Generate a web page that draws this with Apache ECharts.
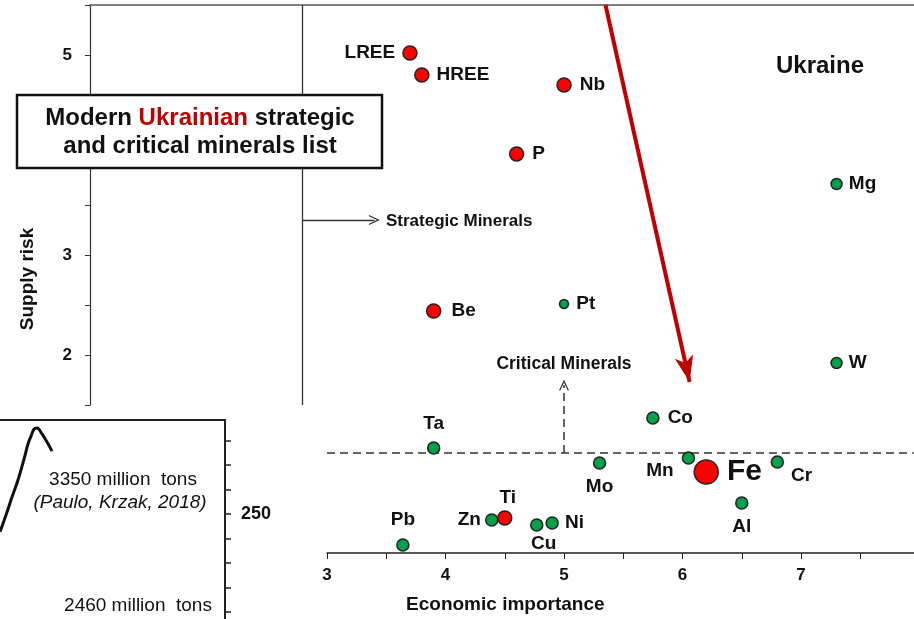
<!DOCTYPE html>
<html>
<head>
<meta charset="utf-8" />
<title>Ukrainian strategic and critical minerals</title>
<script src="https://cdn.jsdelivr.net/npm/echarts@6.0.0/dist/echarts.min.js"></script>
<style>
  html, body { margin: 0; padding: 0; background: #fff; }
  #chart { width: 914px; height: 619px; }
</style>
</head>
<body>
<div id="chart"></div>
<script type="text/javascript">
  // upper panel (high supply risk)
  var upperNames = ['LREE', 'HREE', 'Nb', 'P', 'Be', 'Pt', 'Mg', 'W'];
  var upperX = [3.7, 3.8, 5.0, 4.6, 3.9, 5.0, 7.3, 7.3];
  var upperY = [5.02, 4.8, 4.7, 4.01, 2.44, 2.51, 3.71, 1.92];
  var upperKind = ['s', 's', 's', 's', 's', 'c', 'c', 'c'];   // s = strategic (red), c = critical (green)

  // lower panel (pasted crop, same scales)
  var lowerNames = ['Ta', 'Co', 'Mo', 'Mn', 'Fe', 'Cr', 'Al', 'Pb', 'Zn', 'Ti', 'Cu', 'Ni'];
  var lowerX = [3.9, 5.75, 5.3, 6.05, 6.2, 6.8, 6.5, 3.64, 4.39, 4.5, 4.77, 4.9];
  var lowerY = [1.05, 1.35, 0.9, 0.95, 0.81, 0.91, 0.5, 0.08, 0.33, 0.35, 0.28, 0.3];
  var lowerKind = ['c', 'c', 'c', 'c', 's', 'c', 'c', 'c', 'c', 's', 'c', 'c'];

  var yTickLabels = [2, 3, 4, 5];
  var xTickLabels = [3, 4, 5, 6, 7];

  // inset (iron ore reserves curve)
  var insetX = [0, 6, 12, 18, 24, 28, 31, 34, 37, 42, 47, 52];
  var insetY = [242.7, 249.6, 256.9, 263.9, 272.4, 278.6, 281.8, 284.7, 285.1, 282.7, 279.4, 275.7];
  var insetTicks = [210, 220, 230, 240, 250, 260, 270, 280];
  var insetTickLabels = [250];

  var FONT = '"Liberation Sans", Arial, sans-serif';
  var RED = '#ff0000';
  var GREEN = '#00a14b';

  // label placement for each mineral: [position, distance, offset]
  var labelPlace = {
    LREE: ['left', 7], HREE: ['right', 7], Nb: ['right', 8], P: ['right', 8],
    Be: ['right', 10], Pt: ['right', 7], Mg: ['right', 6], W: ['right', 6],
    Ta: ['top', 8], Co: ['right', 8], Mo: ['bottom', 8], Mn: ['left', 8, [0, 13]],
    Fe: ['right', 8], Cr: ['right', 7, [0, 14]], Al: ['bottom', 8], Pb: ['top', 9],
    Zn: ['left', 4], Ti: ['top', 3, [3, 0]], Cu: ['bottom', 3, [7, 0]], Ni: ['right', 6]
  };

  function sizeOf(name, kind) {
    if (name === 'Fe') return 24;
    if (name === 'Pt') return 9;
    if (name === 'Mg' || name === 'W') return 11;
    return kind === 's' ? 14 : 12;
  }

  function build(names, xs, ys, kinds, want) {
    var out = [];
    names.forEach(function (n, i) {
      if (kinds[i] !== want) return;
      var p = labelPlace[n];
      var item = {
        name: n,
        value: [xs[i], ys[i]],
        symbolSize: sizeOf(n, kinds[i]),
        label: { position: p[0], distance: p[1] }
      };
      if (p[2]) item.label.offset = p[2];
      if (n === 'Fe') item.label.fontSize = 30;
      out.push(item);
    });
    return out;
  }

  var chevron = 'path://M0,12 L6,0 L12,12 L10.4,12 L6,3.2 L1.6,12 Z';

  var pointLabel = {
    show: true, formatter: '{b}', color: '#111', fontFamily: FONT,
    fontWeight: 'bold', fontSize: 19
  };

  function scatter(grid, data, color) {
    return {
      type: 'scatter', xAxisIndex: grid, yAxisIndex: grid, data: data,
      itemStyle: { color: color, borderColor: '#222', borderWidth: 1.5, opacity: 1 },
      label: pointLabel, animation: false, silent: true, z: 5
    };
  }

  var solid = { color: '#333', width: 1.3, type: 'solid' };
  var dashed = { color: '#333', width: 1.5, type: [8, 5] };

  var upperRed = scatter(0, build(upperNames, upperX, upperY, upperKind, 's'), RED);
  upperRed.markLine = {
    silent: true, animation: false, label: { show: false },
    data: [
      // separator and "strategic" arrow
      [{ coord: [2.79, 5.5], symbol: 'none', lineStyle: solid }, { coord: [2.79, 1.5], symbol: 'none' }],
      [{ coord: [2.79, 3.35], symbol: 'none', lineStyle: solid }, { coord: [3.4, 3.35], symbol: chevron, symbolSize: [10, 11] }],
      // big red arrow towards Fe
      [{ coord: [5.35, 5.5], symbol: 'none', lineStyle: { color: '#c00000', width: 4, type: 'solid' } },
       { coord: [6.06, 1.73], symbol: 'arrow', symbolSize: [14, 26] }]
    ]
  };

  var lowerGreen = scatter(1, build(lowerNames, lowerX, lowerY, lowerKind, 'c'), GREEN);
  lowerGreen.markLine = {
    silent: true, animation: false, label: { show: false },
    data: [
      [{ coord: [3, 1], symbol: 'none', lineStyle: dashed }, { coord: [7.95, 1], symbol: 'none' }],
      [{ coord: [5, 1], symbol: 'none', lineStyle: dashed }, { coord: [5, 1.68], symbol: chevron, symbolSize: [10, 11] }]
    ]
  };

  var option = {
    backgroundColor: '#fff',
    animation: false,
    grid: [
      { left: 90, top: 5, width: 823.6, height: 400 },        // upper
      { left: 327, top: 375, width: 586.6, height: 178 },     // lower
      { left: 0, top: 420, width: 225, height: 199 },         // inset
      { left: 90, top: 5, width: 10, height: 548 }            // axis name holder
    ],
    xAxis: [
      { gridIndex: 0, type: 'value', min: 1, max: 7.95, position: 'top',
        axisLine: { show: true, onZero: false, lineStyle: { color: '#555', width: 1.5 } },
        axisTick: { show: false }, axisLabel: { show: false }, splitLine: { show: false } },
      { gridIndex: 1, type: 'value', min: 3, max: 7.95, interval: 0.5,
        axisLine: { show: true, onZero: false, lineStyle: { color: '#222', width: 1.5 } },
        axisTick: { show: true, length: 6, lineStyle: { color: '#222' } },
        axisLabel: { margin: 14, color: '#111', fontFamily: FONT, fontWeight: 'bold', fontSize: 17,
          showMaxLabel: false,
          formatter: function (v) { return xTickLabels.indexOf(v) >= 0 ? v : ''; } },
        splitLine: { show: false },
        name: 'Economic importance', nameLocation: 'middle', nameGap: 42,
        nameTextStyle: { color: '#111', fontFamily: FONT, fontWeight: 'bold', fontSize: 19, padding: [0, 230, 0, 0] } },
      { gridIndex: 2, type: 'value', min: 0, max: 225, position: 'top',
        axisLine: { show: true, onZero: false, lineStyle: { color: '#222', width: 2 } },
        axisTick: { show: false }, axisLabel: { show: false }, splitLine: { show: false } },
      { gridIndex: 3, type: 'value', show: false }
    ],
    yAxis: [
      { gridIndex: 0, type: 'value', min: 1.5, max: 5.5, interval: 0.5,
        axisLine: { show: true, onZero: false, lineStyle: { color: '#333', width: 1.2 } },
        axisTick: { show: true, length: 5, lineStyle: { color: '#333' } },
        axisLabel: { margin: 18, color: '#111', fontFamily: FONT, fontWeight: 'bold', fontSize: 17,
          formatter: function (v) { return yTickLabels.indexOf(v) >= 0 ? v : ''; } },
        splitLine: { show: false } },
      { gridIndex: 1, type: 'value', min: 0, max: 1.78, show: false },
      { gridIndex: 2, type: 'value', min: 207.1, max: 288.4, position: 'right',
        axisLine: { show: true, onZero: false, lineStyle: { color: '#222', width: 2 } },
        axisTick: { show: true, length: 6, customValues: insetTicks, lineStyle: { color: '#222', width: 1.5 } },
        axisLabel: { margin: 16, color: '#111', fontFamily: FONT, fontWeight: 'bold', fontSize: 18,
          customValues: insetTickLabels },
        splitLine: { show: false } },
      { gridIndex: 3, type: 'value', min: 0, max: 1,
        axisLine: { show: false }, axisTick: { show: false }, axisLabel: { show: false }, splitLine: { show: false },
        name: 'Supply risk', nameLocation: 'middle', nameGap: 53,
        nameTextStyle: { color: '#111', fontFamily: FONT, fontWeight: 'bold', fontSize: 19 } }
    ],
    series: [
      upperRed,
      scatter(0, build(upperNames, upperX, upperY, upperKind, 'c'), GREEN),
      lowerGreen,
      scatter(1, build(lowerNames, lowerX, lowerY, lowerKind, 's'), RED),
      { type: 'line', xAxisIndex: 2, yAxisIndex: 2, smooth: 0.4, showSymbol: false, silent: true,
        data: insetX.map(function (x, i) { return [x, insetY[i]]; }),
        lineStyle: { color: '#111', width: 3 } }
    ],
    graphic: [
      { type: 'rect', z: 100, shape: { x: 17, y: 95, width: 365, height: 73 },
        style: { fill: '#fff', stroke: '#111', lineWidth: 2.5 } },
      { type: 'text', z: 101, x: 200, y: 132,
        style: { text: 'Modern {r|Ukrainian} strategic\nand critical minerals list', align: 'center', verticalAlign: 'middle',
          font: 'bold 24px ' + FONT, fill: '#111', lineHeight: 28,
          rich: { r: { fill: '#c00000', font: 'bold 24px ' + FONT } } } },
      { type: 'text', z: 50, x: 820, y: 66,
        style: { text: 'Ukraine', align: 'center', verticalAlign: 'middle', font: 'bold 24px ' + FONT, fill: '#111' } },
      { type: 'text', z: 50, x: 386, y: 221,
        style: { text: 'Strategic Minerals', align: 'left', verticalAlign: 'middle', font: 'bold 17px ' + FONT, fill: '#111' } },
      { type: 'text', z: 50, x: 564, y: 364,
        style: { text: 'Critical Minerals', align: 'center', verticalAlign: 'middle', font: 'bold 17.5px ' + FONT, fill: '#111' } },
      { type: 'text', z: 50, x: 123, y: 480,
        style: { text: '3350 million  tons', align: 'center', verticalAlign: 'middle', font: '19px ' + FONT, fill: '#111' } },
      { type: 'text', z: 50, x: 120, y: 503,
        style: { text: '(Paulo, Krzak, 2018)', align: 'center', verticalAlign: 'middle', font: 'italic 19px ' + FONT, fill: '#111' } },
      { type: 'text', z: 50, x: 138, y: 606,
        style: { text: '2460 million  tons', align: 'center', verticalAlign: 'middle', font: '19px ' + FONT, fill: '#111' } }
    ]
  };

  var myChart = echarts.init(document.getElementById('chart'));
  myChart.setOption(option);
</script>
</body>
</html>
